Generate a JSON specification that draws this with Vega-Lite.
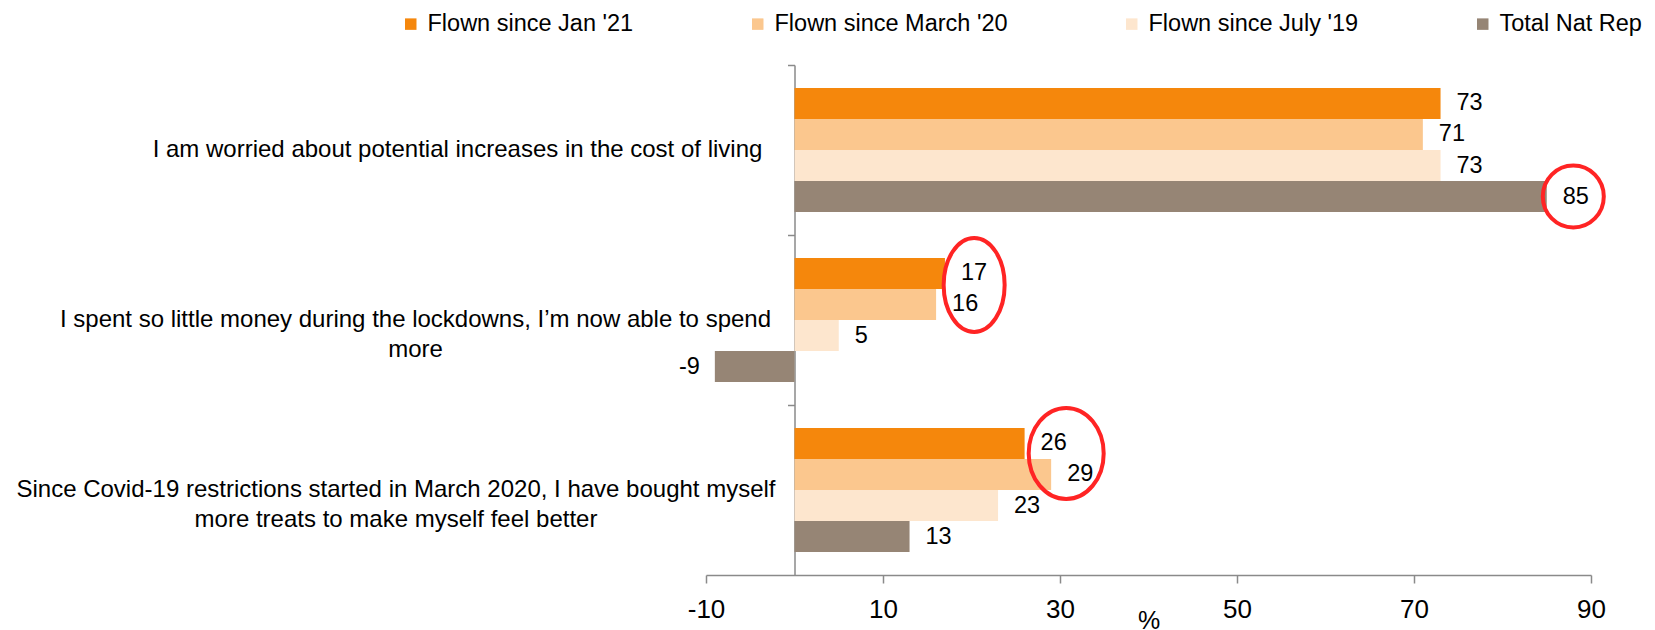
{
  "$schema": "https://vega.github.io/schema/vega-lite/v6.json",
  "autosize": "none",
  "width": 885,
  "height": 510,
  "padding": {"left": 706, "top": 65, "right": 64, "bottom": 55},
  "background": "white",
  "config": {
    "view": {"stroke": null},
    "font": "Liberation Sans",
    "locale": {"number": {"decimal": ".", "thousands": ",", "grouping": [3], "currency": ["$", ""], "minus": "-"}}
  },
  "datasets": {
    "bars": [
      {"question": "I am worried about potential increases in the cost of living", "series": "Flown since Jan '21", "value": 73},
      {"question": "I am worried about potential increases in the cost of living", "series": "Flown since March '20", "value": 71},
      {"question": "I am worried about potential increases in the cost of living", "series": "Flown since July '19", "value": 73},
      {"question": "I am worried about potential increases in the cost of living", "series": "Total Nat Rep", "value": 85},
      {"question": "I spent so little money during the lockdowns, I’m now able to spend more", "series": "Flown since Jan '21", "value": 17},
      {"question": "I spent so little money during the lockdowns, I’m now able to spend more", "series": "Flown since March '20", "value": 16},
      {"question": "I spent so little money during the lockdowns, I’m now able to spend more", "series": "Flown since July '19", "value": 5},
      {"question": "I spent so little money during the lockdowns, I’m now able to spend more", "series": "Total Nat Rep", "value": -9},
      {"question": "Since Covid-19 restrictions started in March 2020, I have bought myself more treats to make myself feel better", "series": "Flown since Jan '21", "value": 26},
      {"question": "Since Covid-19 restrictions started in March 2020, I have bought myself more treats to make myself feel better", "series": "Flown since March '20", "value": 29},
      {"question": "Since Covid-19 restrictions started in March 2020, I have bought myself more treats to make myself feel better", "series": "Flown since July '19", "value": 23},
      {"question": "Since Covid-19 restrictions started in March 2020, I have bought myself more treats to make myself feel better", "series": "Total Nat Rep", "value": 13}
    ],
    "labels": [
      {"question": "I am worried about potential increases in the cost of living", "lines": ["I am worried about potential increases in the cost of living"]},
      {"question": "I spent so little money during the lockdowns, I’m now able to spend more", "lines": ["I spent so little money during the lockdowns, I’m now able to spend", "more"]},
      {"question": "Since Covid-19 restrictions started in March 2020, I have bought myself more treats to make myself feel better", "lines": ["Since Covid-19 restrictions started in March 2020, I have bought myself", "more treats to make myself feel better"]}
    ],
    "circles": [
      {"question": "I am worried about potential increases in the cost of living", "series": "Total Nat Rep", "value": 88},
      {"question": "I spent so little money during the lockdowns, I’m now able to spend more", "series": "Flown since Jan '21", "value": 20.3},
      {"question": "Since Covid-19 restrictions started in March 2020, I have bought myself more treats to make myself feel better", "series": "Flown since Jan '21", "value": 30.7}
    ]
  },
  "encoding": {
    "y": {
      "field": "question",
      "type": "nominal",
      "sort": [
        "I am worried about potential increases in the cost of living",
        "I spent so little money during the lockdowns, I’m now able to spend more",
        "Since Covid-19 restrictions started in March 2020, I have bought myself more treats to make myself feel better"
      ],
      "scale": {"paddingInner": 0.27, "paddingOuter": 0.135},
      "axis": {
        "title": null,
        "offset": -88.5,
        "domainColor": "#8a8a8a",
        "domainWidth": 1.5,
        "ticks": true,
        "tickColor": "#8a8a8a",
        "tickWidth": 1.5,
        "tickSize": 7,
        "bandPosition": 0,
        "tickOffset": -22.95,
        "labels": false
      }
    }
  },
  "layer": [
    {
      "data": {"name": "bars"},
      "mark": {"type": "bar"},
      "encoding": {
        "yOffset": {
          "field": "series",
          "type": "nominal",
          "sort": ["Flown since Jan '21", "Flown since March '20", "Flown since July '19", "Total Nat Rep"],
          "scale": {"paddingInner": 0, "paddingOuter": 0}
        },
        "x": {
          "field": "value",
          "type": "quantitative",
          "scale": {"domain": [-10, 90], "nice": false, "zero": false},
          "axis": {
            "values": [-10, 10, 30, 50, 70, 90],
            "grid": false,
            "domainColor": "#8a8a8a",
            "domainWidth": 1.5,
            "tickColor": "#8a8a8a",
            "tickWidth": 1.5,
            "tickSize": 8,
            "labelFontSize": 26,
            "labelColor": "#000000",
            "labelPadding": 13,
            "labelFlush": false,
            "labelOverlap": false,
            "title": "%",
            "titleFontSize": 25,
            "titleFontWeight": "normal",
            "titleColor": "#000000",
            "titlePadding": -14
          }
        },
        "color": {
          "field": "series",
          "type": "nominal",
          "scale": {
            "domain": ["Flown since Jan '21", "Flown since March '20", "Flown since July '19", "Total Nat Rep"],
            "range": ["#F5870C", "#FBC78E", "#FDE6CE", "#968575"]
          },
          "legend": {
            "title": null,
            "orient": "none",
            "legendX": -307,
            "legendY": -53,
            "direction": "horizontal",
            "columns": 4,
            "columnPadding": 112,
            "symbolType": "square",
            "symbolSize": 132,
            "symbolStrokeWidth": 0,
            "labelOffset": 5,
            "labelFontSize": 23.5,
            "labelColor": "#000000",
            "labelLimit": 400
          }
        }
      }
    },
    {
      "data": {"name": "bars"},
      "transform": [{"filter": "datum.value >= 0"}],
      "mark": {"type": "text", "align": "left", "baseline": "middle", "dx": 16, "fontSize": 23.5, "color": "#000000"},
      "encoding": {
        "yOffset": {"field": "series", "type": "nominal", "sort": ["Flown since Jan '21", "Flown since March '20", "Flown since July '19", "Total Nat Rep"]},
        "x": {"field": "value", "type": "quantitative"},
        "text": {"field": "value", "type": "quantitative"}
      }
    },
    {
      "data": {"name": "bars"},
      "transform": [{"filter": "datum.value < 0"}],
      "mark": {"type": "text", "align": "right", "baseline": "middle", "dx": -15, "fontSize": 23.5, "color": "#000000"},
      "encoding": {
        "yOffset": {"field": "series", "type": "nominal", "sort": ["Flown since Jan '21", "Flown since March '20", "Flown since July '19", "Total Nat Rep"]},
        "x": {"field": "value", "type": "quantitative"},
        "text": {"field": "value", "type": "quantitative"}
      }
    },
    {
      "data": {"name": "labels"},
      "transform": [{"filter": "indexof(datum.question, 'I am worried') == 0"}],
      "mark": {"type": "text", "align": "center", "baseline": "middle", "dx": -248.5, "fontSize": 24, "lineHeight": 30, "color": "#000000"},
      "encoding": {
        "x": {"datum": -10, "type": "quantitative"},
        "text": {"field": "lines"}
      }
    },
    {
      "data": {"name": "labels"},
      "transform": [{"filter": "indexof(datum.question, 'I spent') == 0"}],
      "mark": {"type": "text", "align": "center", "baseline": "middle", "dx": -290.5, "fontSize": 24, "lineHeight": 30, "color": "#000000"},
      "encoding": {
        "x": {"datum": -10, "type": "quantitative"},
        "text": {"field": "lines"}
      }
    },
    {
      "data": {"name": "labels"},
      "transform": [{"filter": "indexof(datum.question, 'Since') == 0"}],
      "mark": {"type": "text", "align": "center", "baseline": "middle", "dx": -310, "fontSize": 24, "lineHeight": 30, "color": "#000000"},
      "encoding": {
        "x": {"datum": -10, "type": "quantitative"},
        "text": {"field": "lines"}
      }
    },
    {
      "data": {"name": "circles"},
      "mark": {"type": "point", "filled": false, "stroke": "#FF2424", "strokeWidth": 4, "size": 4, "opacity": 1},
      "encoding": {
        "yOffset": {"field": "series", "type": "nominal", "sort": ["Flown since Jan '21", "Flown since March '20", "Flown since July '19", "Total Nat Rep"]},
        "x": {"field": "value", "type": "quantitative"},
        "shape": {
          "field": "question",
          "type": "nominal",
          "scale": {
            "domain": [
              "I am worried about potential increases in the cost of living",
              "I spent so little money during the lockdowns, I’m now able to spend more",
              "Since Covid-19 restrictions started in March 2020, I have bought myself more treats to make myself feel better"
            ],
            "range": [
              "M -30.5 0 A 30.5 31 0 1 0 30.5 0 A 30.5 31 0 1 0 -30.5 0 Z",
              "M -30.5 11.5 A 30.5 47 0 1 0 30.5 11.5 A 30.5 47 0 1 0 -30.5 11.5 Z",
              "M -37.5 10 A 37.5 45.5 0 1 0 37.5 10 A 37.5 45.5 0 1 0 -37.5 10 Z"
            ]
          },
          "legend": null
        }
      }
    }
  ]
}
